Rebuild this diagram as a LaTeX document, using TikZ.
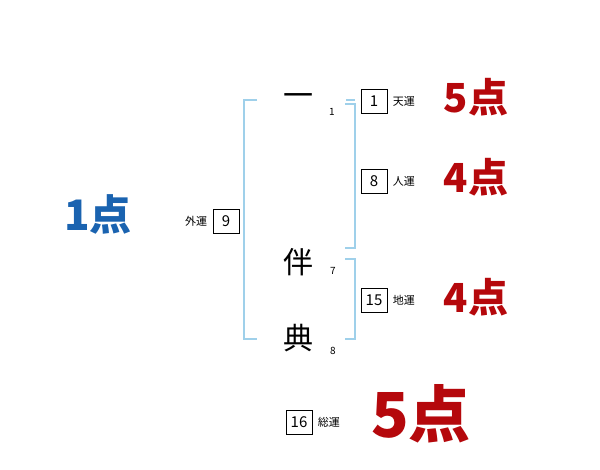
\documentclass[tikz,border=0pt]{standalone}
\usepackage{fontspec}
\setmainfont{Noto Sans CJK JP}
\usetikzlibrary{positioning}

\definecolor{brk}{HTML}{9FD0EA}
\definecolor{pred}{HTML}{B5080C}
\definecolor{pblue}{HTML}{1A63B0}

\tikzset{
  kanji/.style={font=\fontsize{30}{30}\selectfont},
  strk/.style={font=\fontsize{10}{10}\selectfont},
  numbox/.style={draw,line width=0.8pt,minimum width=26pt,minimum height=24pt,inner sep=1pt,font=\fontsize{15}{15}\selectfont},
  unlbl/.style={font=\fontsize{11}{11}\selectfont},
  score/.style={text=pred,font=\bfseries\fontsize{40}{40}\selectfont},
  brack/.style={brk,line width=1.6pt}
}

\begin{document}
\begin{tikzpicture}[x=1pt,y=-1pt]
\useasboundingbox (0,0) rectangle (600,470);

% name
\node[kanji] (c1) at (298,100) {一};
\node[kanji] (c2) at (298,262) {伴};
\node[kanji] (c3) at (298,338) {典};
\node[strk] (s1) at (332,112) {1};
\node[strk] (s2) at (333,271) {7};
\node[strk] (s3) at (333,351) {8};

% brackets
\draw[brack] (257,100) -- (244,100) -- (244,339) -- (257,339);
\draw[brack] (346,100) -- (355,100);
\draw[brack] (345,104) -- (355,104) -- (355,248) -- (345,248);
\draw[brack] (345,259) -- (355,259) -- (355,339) -- (345,339);

% fortunes
\node[numbox] (ten) at (374,101) {1};
\node[unlbl,right=2pt of ten] (tenl) {天運};
\node[numbox] (jin) at (374,181) {8};
\node[unlbl,right=2pt of jin] (jinl) {人運};
\node[numbox] (chi) at (374,300) {15};
\node[unlbl,right=2pt of chi] (chil) {地運};
\node[numbox] (gai) at (226,221) {9};
\node[unlbl,left=2pt of gai] (gail) {外運};
\node[numbox] (sou) at (299,422) {16};
\node[unlbl,right=2pt of sou] (soul) {総運};

% points
\node[score] (p1) at (476,97) {5点};
\node[score] (p2) at (476,177) {4点};
\node[score] (p3) at (476,297) {4点};
\node[score,font=\bfseries\fontsize{62}{62}\selectfont] (p4) at (421,414) {5点};
\node[score,text=pblue,font=\bfseries\fontsize{42}{42}\selectfont] (p5) at (98,214) {1点};
\end{tikzpicture}
\end{document}
